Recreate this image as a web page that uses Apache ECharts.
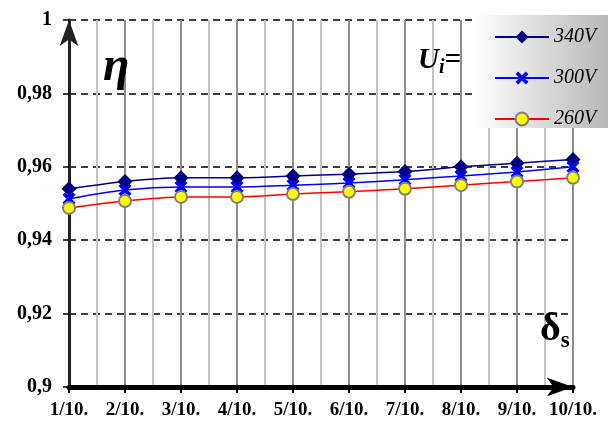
<!DOCTYPE html>
<html lang="en">
<head>
    <meta charset="UTF-8">
    <title>eta vs delta</title>
    <script src="https://cdn.jsdelivr.net/npm/echarts@6/dist/echarts.min.js"></script>
    <style>
        html, body { margin: 0; padding: 0; background: #fff; }
        #chart { width: 608px; height: 421px; }
    </style>
</head>
<body>
    <div id="chart"></div>
<script>
    // data
    var xLabels = ['1/10.', '2/10.', '3/10.', '4/10.', '5/10.', '6/10.', '7/10.', '8/10.', '9/10.', '10/10.'];
    var names = ['340V', '300V', '260V'];
    var v340 = [0.954, 0.956, 0.957, 0.957, 0.9575, 0.958, 0.9587, 0.960, 0.961, 0.962];
    var v300 = [0.9513, 0.9537, 0.9545, 0.9545, 0.955, 0.9556, 0.9565, 0.9575, 0.9586, 0.960];
    var v260 = [0.9488, 0.9507, 0.9518, 0.9518, 0.9526, 0.9532, 0.954, 0.955, 0.956, 0.957];

    function pairs(arr) {
        var out = [];
        for (var i = 0; i < arr.length; i++) {
            out.push([i + 1, arr[i]]);
        }
        return out;
    }

    var serif = '"Liberation Serif", "DejaVu Serif", serif';
    var crossPath = 'path://M2,0 L5,3 L8,0 L10,2 L7,5 L10,8 L8,10 L5,7 L2,10 L0,8 L3,5 L0,2 Z';

    var myChart = echarts.init(document.getElementById('chart'));
    var option = {
        animation: false,
        backgroundColor: '#fff',
        grid: { left: 69, right: 35, top: 20, bottom: 34, containLabel: false },
        xAxis: {
            type: 'value',
            min: 1,
            max: 10,
            interval: 1,
            axisLine: {
                show: true,
                symbol: ['none', 'arrow'],
                symbolSize: [14, 26],
                lineStyle: { color: '#000', width: 5 }
            },
            axisTick: { show: true, length: 6, lineStyle: { color: '#000', width: 2 } },
            axisLabel: {
                margin: 14,
                fontFamily: serif,
                fontWeight: 'bold',
                fontSize: 19,
                color: '#000',
                formatter: function (v) { return xLabels[v - 1] || ''; }
            },
            splitLine: { show: true, lineStyle: { color: '#8c8c8c', width: 2 } },
            minorTick: { show: false, splitNumber: 2 },
            minorSplitLine: { show: true, lineStyle: { color: '#c4c4c4', width: 2 } }
        },
        yAxis: {
            type: 'value',
            min: 0.9,
            max: 1,
            interval: 0.02,
            axisLine: {
                show: true,
                symbol: ['none', 'arrow'],
                symbolSize: [14, 26],
                lineStyle: { color: '#222', width: 3 }
            },
            axisTick: { show: true, length: 6, lineStyle: { color: '#000', width: 1.5 } },
            axisLabel: {
                margin: 17,
                fontFamily: serif,
                fontWeight: 'bold',
                fontSize: 20,
                color: '#000',
                formatter: function (v) {
                    return String(Math.round(v * 100) / 100).replace('.', ',');
                }
            },
            splitLine: { show: true, lineStyle: { color: '#000', width: 1.5, type: [7, 5] } }
        },
        legend: {
            orient: 'vertical',
            left: 489,
            top: 22,
            itemWidth: 54,
            itemHeight: 16,
            itemGap: 21,
            z: 10,
            data: names,
            textStyle: { fontFamily: serif, fontStyle: 'italic', fontSize: 20, color: '#000' }
        },
        graphic: [
            {
                type: 'rect',
                z: 3,
                shape: { x: 473, y: 15, width: 135, height: 113 },
                style: {
                    fill: new echarts.graphic.LinearGradient(0, 0, 1, 0, [
                        { offset: 0, color: '#ffffff' },
                        { offset: 1, color: '#b8b8b8' }
                    ])
                }
            },
            {
                type: 'text',
                z: 5,
                left: 103,
                top: 44,
                style: { text: 'η', font: 'italic bold 48px ' + serif, fill: '#000' }
            },
            {
                type: 'text',
                z: 5,
                left: 418,
                top: 46,
                style: {
                    text: '{u|U}{i|i}{u|=}',
                    rich: {
                        u: { font: 'italic bold 29px ' + serif, fill: '#000' },
                        i: { font: 'italic bold 20px ' + serif, fill: '#000', padding: [14, 0, 0, 0] }
                    }
                }
            },
            {
                type: 'text',
                z: 5,
                left: 540,
                top: 310,
                style: {
                    text: '{d|δ}{s|s}',
                    rich: {
                        d: { font: 'bold 40px ' + serif, fill: '#000' },
                        s: { font: 'bold 23px ' + serif, fill: '#000', padding: [22, 0, 0, 0] }
                    }
                }
            }
        ],
        series: [
            {
                name: names[0],
                type: 'line',
                smooth: 0.3,
                data: pairs(v340),
                symbol: 'diamond',
                symbolSize: 15,
                lineStyle: { color: '#000080', width: 1.5 },
                itemStyle: { color: '#000080' }
            },
            {
                name: names[1],
                type: 'line',
                smooth: 0.3,
                data: pairs(v300),
                symbol: crossPath,
                symbolSize: 13,
                lineStyle: { color: '#0000ff', width: 1.5 },
                itemStyle: { color: '#0000ff' }
            },
            {
                name: names[2],
                type: 'line',
                smooth: 0.3,
                data: pairs(v260),
                symbol: 'circle',
                symbolSize: 12,
                lineStyle: { color: '#ff0000', width: 1.5 },
                itemStyle: { color: '#ffff00', borderColor: '#808080', borderWidth: 2 }
            }
        ]
    };
    myChart.setOption(option);
</script>
</body>
</html>
